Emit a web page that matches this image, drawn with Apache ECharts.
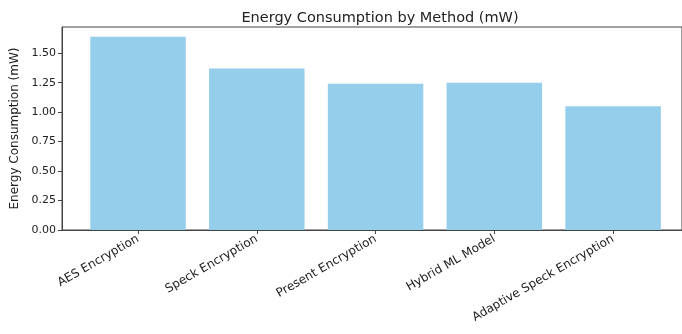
<!DOCTYPE html>
<html><head><meta charset="utf-8">
<script src="https://cdn.jsdelivr.net/npm/echarts@6/dist/echarts.min.js"></script>
<style>html,body{margin:0;padding:0;background:#fff}#c{width:682px;height:334px}</style>
</head><body><div id="c"></div>
<script>
const categories = ["AES Encryption", "Speck Encryption", "Present Encryption", "Hybrid ML Model", "Adaptive Speck Encryption"];
const energyValues = [1.64, 1.37, 1.24, 1.25, 1.05];
const yTicks = [0, 0.25, 0.5, 0.75, 1.0, 1.25, 1.5];
const titleText = "Energy Consumption by Method (mW)";
const yName = "Energy Consumption (mW)";

const positions = categories.map((_, i) => i);
const chart = echarts.init(document.getElementById('c'), null, {renderer: 'canvas'});
const font = 'DejaVu Sans';
chart.setOption({
  animation: false,
  title: {text: titleText, left: 375, top: 6, textAlign: 'center',
    textStyle: {fontFamily: font, fontSize: 14.5, fontWeight: 'normal', color: '#222'}},
  grid: {left: 62, right: 0, top: 27, bottom: 104, show: true, borderColor: '#444', borderWidth: 1, containLabel: false},
  xAxis: {
    type: 'value', min: -0.64, max: 4.58,
    splitLine: {show: false},
    axisLine: {show: true, onZero: false, lineStyle: {color: '#444', width: 1}},
    axisTick: {show: true, length: 4, customValues: positions, lineStyle: {color: '#444'}},
    axisLabel: {customValues: positions, rotate: 30, margin: 8, fontFamily: font, fontSize: 12, color: '#222',
      formatter: v => categories[Math.round(v)]}
  },
  yAxis: {
    type: 'value', min: 0, max: 1.722,
    name: yName, nameLocation: 'middle', nameGap: 40, nameRotate: 90,
    nameTextStyle: {fontFamily: font, fontSize: 12, color: '#222'},
    splitLine: {show: false},
    axisLine: {show: true, onZero: false, lineStyle: {color: '#444', width: 1}},
    axisTick: {show: true, length: 4, customValues: yTicks, lineStyle: {color: '#444'}},
    axisLabel: {customValues: yTicks, margin: 6, fontFamily: font, fontSize: 11, color: '#222',
      formatter: v => v.toFixed(2)}
  },
  series: [{
    type: 'bar', barWidth: 95.5,
    itemStyle: {color: '#94ceeb'},
    data: positions.map((p, i) => [p, energyValues[i]])
  }]
});
</script></body></html>
